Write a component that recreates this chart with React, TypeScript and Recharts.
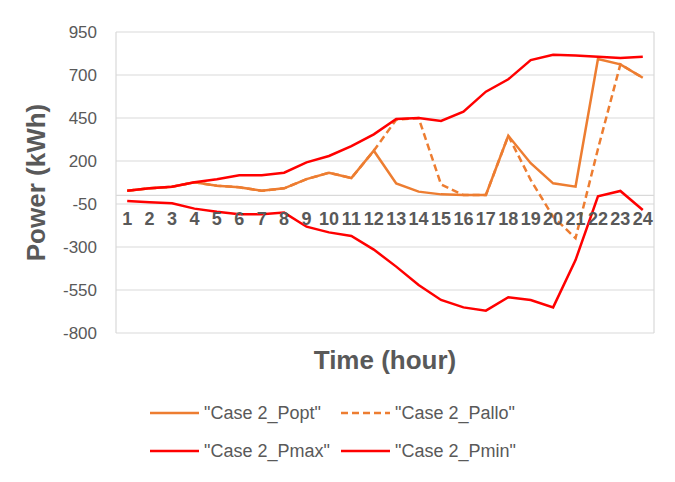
import { CartesianGrid, Legend, Line, LineChart, ReferenceDot, ReferenceLine, XAxis, YAxis } from "recharts"

const hours = [1, 2, 3, 4, 5, 6, 7, 8, 9, 10, 11, 12, 13, 14, 15, 16, 17, 18, 19, 20, 21, 22, 23, 24]
const popt = [27, 41, 50, 76, 56, 47, 27, 41, 95, 132, 101, 260, 70, 22, 6, 2, 2, 347, 187, 70, 51, 793, 762, 684]
const pallo = [27, 41, 50, 76, 56, 47, 27, 41, 95, 132, 101, 260, 440, 450, 64, 2, 2, 347, 90, -124, -249, 270, 762, 684]
const pmax = [27, 41, 50, 76, 94, 117, 117, 132, 192, 229, 287, 355, 444, 450, 433, 487, 603, 675, 787, 818, 814, 806, 799, 806]
const pmin = [-33, -40, -46, -77, -95, -110, -110, -100, -182, -215, -236, -315, -414, -521, -608, -651, -670, -592, -608, -651, -376, -5, 26, -85]
const yTicks = [-800, -550, -300, -50, 200, 450, 700, 950]

// vertical gridlines sit between the hours, like Excel's category gridlines
const gridX = [...hours.map((h) => h - 0.5), 24.5]

const series = [
  { key: "popt", name: '"Case 2_Popt"', color: "#ED7D31", dash: undefined },
  { key: "pallo", name: '"Case 2_Pallo"', color: "#ED7D31", dash: "7 4" },
  { key: "pmax", name: '"Case 2_Pmax"', color: "#FF0000", dash: undefined },
  { key: "pmin", name: '"Case 2_Pmin"', color: "#FF0000", dash: undefined },
]

const data = hours.map((h, i) => ({ hour: h, popt: popt[i], pallo: pallo[i], pmax: pmax[i], pmin: pmin[i] }))

const FONT = '"Liberation Sans", Arial, sans-serif'
const TEXT = "#595959"
const GRID = "#d9d9d9"

function LegendBox({ payload }: any) {
  // keep the series order instead of the legend's alphabetical sort
  const order = (e: any) => series.findIndex((s) => s.key === e.dataKey)
  const items = [...(payload || [])].sort((a, b) => order(a) - order(b))
  return (
    <div
      style={{
        height: 95,
        boxSizing: "border-box",
        paddingTop: 14,
        paddingLeft: 150,
        display: "grid",
        gridTemplateColumns: "191px auto",
        gridAutoRows: "38px",
        fontFamily: FONT,
        fontSize: 18,
        color: TEXT,
      }}
    >
      {items.map((entry: any) => {
        const s = series.find((x) => x.key === entry.dataKey) || series[0]
        return (
          <div key={s.key} style={{ display: "flex", alignItems: "center" }}>
            <svg width={49} height={6} style={{ marginRight: 5 }}>
              <line x1={0} y1={3} x2={49} y2={3} stroke={s.color} strokeWidth={2.5} strokeDasharray={s.dash} />
            </svg>
            <span>{entry.value}</span>
          </div>
        )
      })}
    </div>
  )
}

export default function App() {
  return (
    <div style={{ position: "absolute", left: 0, top: 0, width: 675, height: 482, background: "#fff" }}>
      <LineChart width={675} height={482} data={data} margin={{ top: 32, right: 21, left: 0, bottom: 7 }}>
        <CartesianGrid stroke={GRID} strokeWidth={1.2} />
        <XAxis
          dataKey="hour"
          type="number"
          domain={[0.5, 24.5]}
          ticks={gridX}
          interval={0}
          tick={false}
          tickLine={false}
          axisLine={false}
          height={47}
          label={{
            content: ({ viewBox }: any) => (
              <text
                x={viewBox.x + viewBox.width / 2}
                y={viewBox.y + 27}
                textAnchor="middle"
                dominantBaseline="central"
                fill={TEXT}
                fontFamily={FONT}
                fontSize={26}
                fontWeight={700}
              >
                Time (hour)
              </text>
            ),
          }}
        />
        <YAxis
          type="number"
          domain={[-800, 950]}
          ticks={yTicks}
          interval={0}
          width={116}
          axisLine={false}
          tickLine={false}
          tickMargin={13}
          tick={{ fill: TEXT, fontSize: 17, fontFamily: FONT }}
          label={{
            content: ({ viewBox }: any) => {
              const cx = 36
              const cy = viewBox.y + viewBox.height / 2
              return (
                <text
                  x={cx}
                  y={cy}
                  transform={`rotate(-90 ${cx} ${cy})`}
                  textAnchor="middle"
                  dominantBaseline="central"
                  fill={TEXT}
                  fontFamily={FONT}
                  fontSize={26}
                  fontWeight={700}
                >
                  Power (kWh)
                </text>
              )
            },
          }}
        />
        <ReferenceLine y={0} stroke={GRID} strokeWidth={1.2} />
        {hours.map((h) => (
          <ReferenceDot
            key={h}
            x={h}
            y={0}
            r={0}
            fill="none"
            stroke="none"
            label={{
              value: String(h),
              position: "bottom",
              offset: 17,
              fill: TEXT,
              fontSize: 18,
              fontWeight: 700,
              fontFamily: FONT,
            }}
          />
        ))}
        {series.map((s) => (
          <Line
            key={s.key}
            type="linear"
            dataKey={s.key}
            name={s.name}
            stroke={s.color}
            strokeWidth={2.5}
            strokeDasharray={s.dash}
            dot={false}
            activeDot={false}
            isAnimationActive={false}
          />
        ))}
        <Legend
          verticalAlign="bottom"
          wrapperStyle={{ left: 0, width: 675, bottom: 7 }}
          content={(props: any) => <LegendBox {...props} />}
        />
      </LineChart>
    </div>
  )
}
